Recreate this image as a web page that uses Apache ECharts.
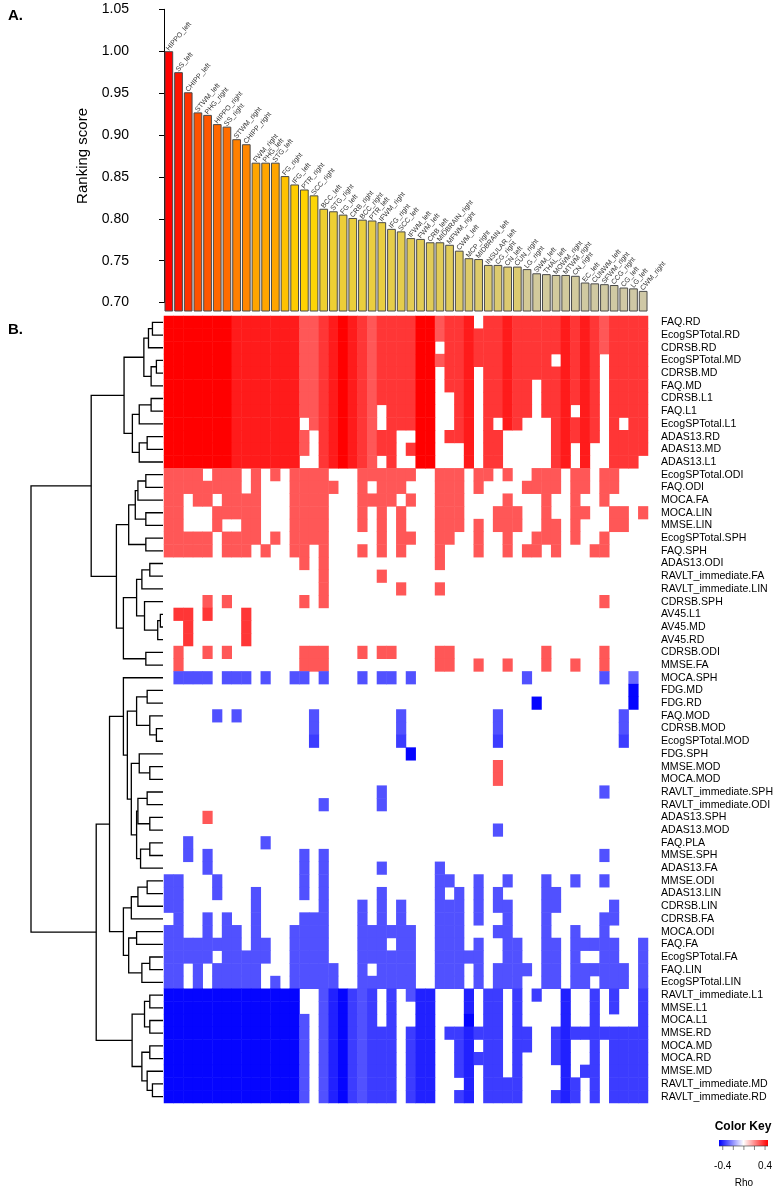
<!DOCTYPE html>
<html><head><meta charset="utf-8">
<script src="https://cdn.jsdelivr.net/npm/echarts@6/dist/echarts.min.js"></script>
<style>html,body{margin:0;padding:0;background:#fff}#c{width:784px;height:1190px}</style>
</head><body><div id="c"></div>
<script>
// ---------------- DATA ----------------
const regions = ["HIPPO_left","SS_left","CHIPP_left","STWM_left","PHG_right","HIPPO_right","SS_right","STWM_right","CHIPP_right","FWM_right",
"PHG_left","STG_left","FG_right","IFG_left","PTR_right","SCC_right","BCC_left","STG_right","FG_left","CRB_right",
"BCC_right","PTR_left","IFWM_right","IFG_right","SCC_left","IFWM_left","FWM_left","CRB_left","MIDBRAIN_right","MFWM_right",
"CWM_left","MCP_right","MIDBRAIN_left","INSULAR_left","CG_right","CN_left","CUN_right","LG_right","SWM_left","THAL_left",
"MOWM_right","MTWM_right","CN_right","EC_left","CUNWM_left","SFWM_right","CCG_right","CG_left","LG_left","CWM_right"];
const scores = [1.000,0.975,0.951,0.927,0.924,0.913,0.910,0.895,0.889,0.867,
0.867,0.867,0.851,0.841,0.835,0.828,0.812,0.809,0.805,0.801,
0.799,0.798,0.796,0.788,0.785,0.777,0.776,0.772,0.772,0.769,
0.762,0.753,0.752,0.745,0.745,0.743,0.743,0.740,0.735,0.734,
0.733,0.733,0.732,0.724,0.723,0.722,0.721,0.718,0.717,0.714];
const scoreTicks = {min:0.70, max:1.05, step:0.05};

const rowNames = ["FAQ.RD","EcogSPTotal.RD","CDRSB.RD","EcogSPTotal.MD","CDRSB.MD","FAQ.MD","CDRSB.L1","FAQ.L1","EcogSPTotal.L1","ADAS13.RD",
"ADAS13.MD","ADAS13.L1","EcogSPTotal.ODI","FAQ.ODI","MOCA.FA","MOCA.LIN","MMSE.LIN","EcogSPTotal.SPH","FAQ.SPH","ADAS13.ODI",
"RAVLT_immediate.FA","RAVLT_immediate.LIN","CDRSB.SPH","AV45.L1","AV45.MD","AV45.RD","CDRSB.ODI","MMSE.FA","MOCA.SPH","FDG.MD",
"FDG.RD","FAQ.MOD","CDRSB.MOD","EcogSPTotal.MOD","FDG.SPH","MMSE.MOD","MOCA.MOD","RAVLT_immediate.SPH","RAVLT_immediate.ODI","ADAS13.SPH",
"ADAS13.MOD","FAQ.PLA","MMSE.SPH","ADAS13.FA","MMSE.ODI","ADAS13.LIN","CDRSB.LIN","CDRSB.FA","MOCA.ODI","FAQ.FA",
"EcogSPTotal.FA","FAQ.LIN","EcogSPTotal.LIN","RAVLT_immediate.L1","MMSE.L1","MOCA.L1","MMSE.RD","MOCA.MD","MOCA.RD","MMSE.MD",
"RAVLT_immediate.MD","RAVLT_immediate.RD"];

// rho, one character per region column ('.' = blank / not significant)
const codeRho = {'1':0.28,'2':0.31,'3':0.37,'4':0.42,'5':0.47,'A':-0.28,'B':-0.32,'C':-0.36,'D':-0.41,'E':-0.46};
const Z = "..........";
const rhoCodes = [
"5555555444"+"4444223454"+"3233335523"+"34.3343333"+"3434323333",
"5555555444"+"4444223454"+"3233335523"+"3433343333"+"3434323333",
"5555555444"+"4444223454"+"32333355.3"+"3433343333"+"3434323333",
"5555555444"+"4444223454"+"3233335523"+"3433343333"+".4343.3333",
"5555555444"+"4444223454"+"32333355.3"+"34.3343333"+"34343.3333",
"5555555444"+"4444223454"+"32333355.3"+"34.33433.3"+"34343.3333",
"5555555444"+"4444223454"+"32333355.."+"34.33433.3"+"34343.3333",
"5555555444"+"4444223454"+"32.33355.."+"34.33433.3"+"34.43.3333",
"5555555444"+"4444.23454"+"32.33355.."+"34.3.43..."+"34343.3.33",
"5555555444"+"44442.3454"+"3233..55.3"+"34.33....."+"34343.3333",
"5555555444"+"44442.3454"+"3233.355.."+".4.33....."+"34.4..3333",
"5555555444"+"4444..3454"+"32.3..55.."+".4.33....."+"34.4..333.",
"2222.222.2"+".2.2222..."+"222222..22"+"2.22.2..22"+"2.22.22...",
"22222222.2"+"...22222.."+"2.222...22"+"2.2....222"+"2.22.22...",
"22.22.2222"+"...2222..."+"2222.2..22"+"2....2...2"+"..2..2....",
"22...22222"+"...2222..."+"2.2.2...22"+"2...222..2"+"..22..22.2",
"22...2..22"+"...2222..."+"2.2.2...22"+"2.2.222..2"+"2.2...22..",
"22222.2222"+".2.2222..."+"..2.22..22"+"..2..2..22"+"2.2..2....",
"22222.222."+"2..22.2..."+"2.2.2...2."+"..2..2.22."+"2...22....",
Z+"....2.2..."+"........2."+Z+Z,
Z+"......2..."+"..2......."+Z+Z,
Z+"......2..."+"....2...2."+Z+Z,
"....2.2..."+"....2.2..."+Z+Z+".....2....",
".33.3...3."+Z+Z+Z+Z,
"..3.....3."+Z+Z+Z+Z,
"..3.....3."+Z+Z+Z+Z,
".2..2.2..."+"....222..."+"2.22....22"+".........2"+".....2....",
".2........"+"....222..."+"........22"+"..2..2...2"+"..2..2....",
".BBBB.BBB."+"B..BB.B..."+"B.BB.B...."+".......B.."+".....B..A.",
Z+Z+Z+Z+"........E.",
Z+Z+Z+"........E."+"........E.",
".....B.B.."+".....B...."+"....B....."+"....B....."+".......B..",
Z+".....B...."+"....B....."+"....B....."+".......B..",
Z+".....C...."+"....C....."+"....C....."+".......C..",
Z+Z+".....E...."+Z+Z,
Z+Z+Z+"....2....."+Z,
Z+Z+Z+"....2....."+Z,
Z+Z+"..B......."+Z+".....B....",
Z+"......B..."+"..B......."+Z+Z,
"....2....."+Z+Z+Z+Z,
Z+Z+Z+"....B....."+Z,
"..B......."+"B........."+Z+Z+Z,
"..B.B....."+"....B.B..."+Z+Z+".....B....",
"....B....."+"....B.B..."+"..B.....B."+Z+Z,
"BB...B...."+"....B.B..."+"........BB"+"..B..B...B"+"..B..B....",
"BB...B...B"+"....B.B..."+"..B.....B."+"B.B.B....B"+"B.........",
"BB.......B"+"......B..."+"B.B.B...BB"+"B.B.BB...B"+"B.....B...",
".B..B.B..B"+"....BBB..."+"B.B.B...BB"+"B.B..B...B"+".....BB...",
"BB..B.BB.B"+"...BBBB..."+"BBBBBB..BB"+"B...BB...B"+"..B..B....",
"BBBBBBBB.B"+"B..BBBB..."+"BBB.BB..BB"+"B.B..BB..B"+"B.BBBBB..B",
"BBBBB.BBBB"+"B..BBBB..."+"BBBBBB..BB"+"BBB..BB..B"+"B.B..BB..B",
"BB.B.BBBBB"+"...BBBBB.."+"B.BBBB..BB"+"B.B.BBBB.B"+"B.BBBBBB.B",
"BB.B.BBBBB"+".B.BBBBB.."+"BBBBBB..BB"+"B.B.BBB..B"+"B.BB.BBB.B",
"EEEEEEEEEE"+"EEEE..BDEC"+"BC.C.BDD.."+".D.CC.C.C."+".D..C.C..C",
"EEEEEEEEEE"+"EEEE..BDEC"+"BC.C..DD.."+".D.CC.C..."+".D..C.C..C",
"EEEEEEEEEE"+"EEEEB.BDEC"+"BC.C..DD.."+".E.CC.C..."+".D..C....C",
"EEEEEEEEEE"+"EEEEB.BDEC"+"BCCC.CDD.C"+"CDCCC.CC.."+"CDCCCCCCCC",
"EEEEEEEEEE"+"EEEEB.BDEC"+"BCCC.CDD.."+"CD.CC.CC.."+"CD..C.CCCC",
"EEEEEEEEEE"+"EEEEB.BDEC"+"BCCC.CDD.."+"CDCCC.C..."+"CD..C.CCCC",
"EEEEEEEEEE"+"EEEEB.BDEC"+"BCCC.CDD.."+"CD.CC.C..."+".D.CC.CCCC",
"EEEEEEEEEE"+"EEEEB.BDEC"+"BCCC.CDD.."+".D.CCCC..."+".DC.C.CCCC",
"EEEEEEEEEE"+"EEEEB.BDEC"+"BCCC.CDD.."+"CD.CCCC..."+"CDC.C.CCCC"
];

// row dendrogram: [mergeHeight, left, right]; leaves are row indices
const G1 = [0.295,[0.145,[0.11,[0.08,0,1],2],[0.09,[0.05,3,4],5]],[0.232,[0.18,[0.09,6,7],8],[0.18,[0.12,9,10],11]]];
const G2 = [0.26,[0.21,[0.19,[0.13,12,13],14],[0.13,15,16]],[0.13,17,18]];
const G3 = [0.3,[0.2,[0.16,[0.1,19,20],21],[0.14,22,[0.04,[0.02,23,24],25]]],[0.13,26,27]];
const B1a = [0.3,28,[0.27,[0.2,[0.12,29,30],[0.1,31,[0.05,32,33]]],[0.24,[0.18,34,[0.1,35,36]],[0.2,[0.19,[0.12,37,38],[0.1,39,40]],[0.17,[0.1,41,42],43]]]]];
const B1b = [0.3,[0.24,[0.19,[0.12,44,45],46],47],[0.26,[0.2,48,49],[0.16,[0.1,50,51],52]]];
const B2 = [0.234,[0.14,[0.1,53,54],[0.1,55,56]],[0.16,[0.1,57,58],[0.12,59,[0.08,60,61]]]];
const rowTree = [1.0,[0.544,G1,[0.353,G2,G3]],[0.506,[0.405,B1a,B1b],B2]];

const keyTicks = [-0.4,-0.2,0,0.2,0.4];
const keyLabels = [-0.4,0.4];
const rhoRange = [-0.47,0.47];

// bar colour ramp (score -> colour)
const barStops = [[0.714,'#CFC8A6'],[0.735,'#D2CA9C'],[0.741,'#D4CA94'],[0.743,'#DCCA70'],[0.76,'#DFCB62'],[0.79,'#E7CD48'],[0.812,'#EECF30'],[0.83,'#FFD600'],[0.85,'#FFC400'],[0.867,'#FFA500'],[0.89,'#FF8600'],[0.91,'#FF6C00'],[0.925,'#FF5500'],[0.95,'#FF3300'],[0.975,'#FF1400'],[1.0,'#FF0000']];

// ---------------- BUILD ----------------
function hex(c){return [parseInt(c.substr(1,2),16),parseInt(c.substr(3,2),16),parseInt(c.substr(5,2),16)];}
function barColor(v){
  if(v<=barStops[0][0]) return barStops[0][1];
  for(let i=1;i<barStops.length;i++){
    if(v<=barStops[i][0]){
      const [v0,c0]=barStops[i-1],[v1,c1]=barStops[i];
      const t=(v-v0)/(v1-v0), a=hex(c0), b=hex(c1);
      return 'rgb('+a.map((x,k)=>Math.round(x+(b[k]-x)*t)).join(',')+')';
    }
  }
  return barStops[barStops.length-1][1];
}
const heatData=[];
rhoCodes.forEach((s,r)=>{for(let c=0;c<s.length;c++){const ch=s[c]; if(ch!=='.') heatData.push([c,r,codeRho[ch]]);}});
const segs=[];
function lay(n){
  if(typeof n==='number') return {h:0,y:n+0.5};
  const a=lay(n[1]), b=lay(n[2]);
  segs.push([a.h,a.y,b.h,b.y,n[0]]);
  return {h:n[0],y:(a.y+b.y)/2};
}
lay(rowTree);

const FONT='"Liberation Sans", Arial, sans-serif';
const chart = echarts.init(document.getElementById('c'));
// colour key geometry
const kx0=719, kx1=768, kVal=v=>743.9+v*52.9;
const graphics=[
  {type:'text',style:{text:'A.',x:8,y:16,textVerticalAlign:'middle',font:'bold 15px '+FONT,fill:'#000'}},
  {type:'text',style:{text:'B.',x:8,y:330,textVerticalAlign:'middle',font:'bold 15px '+FONT,fill:'#000'}},
  {type:'text',style:{text:'Color Key',x:743,y:1127,textAlign:'center',textVerticalAlign:'middle',font:'bold 12px '+FONT,fill:'#000'}},
  {type:'rect',shape:{x:kx0,y:1140,width:kx1-kx0,height:6},style:{fill:new echarts.graphic.LinearGradient(0,0,1,0,[{offset:0,color:'#0000FF'},{offset:0.5,color:'#FFFFFF'},{offset:1,color:'#FF0000'}])}},
  {type:'line',shape:{x1:kx0,y1:1146,x2:kx1,y2:1146},style:{stroke:'#333',lineWidth:0.6}},
  {type:'text',style:{text:'Rho',x:744,y:1183,textAlign:'center',textVerticalAlign:'middle',font:'10px '+FONT,fill:'#000'}}
];
keyTicks.forEach(v=>graphics.push({type:'line',shape:{x1:kVal(v),y1:1146,x2:kVal(v),y2:1150},style:{stroke:'#333',lineWidth:0.6}}));
keyLabels.forEach(v=>graphics.push({type:'text',style:{text:v.toFixed(1),x:kVal(v),y:1166,textAlign:'center',textVerticalAlign:'middle',font:'10px '+FONT,fill:'#000'}}));

chart.setOption({
  animation:false,
  textStyle:{fontFamily:FONT},
  grid:[
    {left:164,top:9.3,width:484,height:301.7},
    {left:164,top:9.3,width:484,height:293.3},
    {left:164,top:316,width:484,height:787},
    {left:31,top:316,width:132,height:787}
  ],
  xAxis:[
    {gridIndex:0,type:'category',data:regions,show:false},
    {gridIndex:1,type:'value',min:0,max:1,show:false},
    {gridIndex:2,type:'category',data:regions,show:false},
    {gridIndex:3,type:'value',min:0,max:1,inverse:true,show:false}
  ],
  yAxis:[
    {gridIndex:0,type:'value',min:0.69,max:scoreTicks.max,show:false},
    {gridIndex:1,type:'value',min:scoreTicks.min,max:scoreTicks.max,interval:scoreTicks.step,offset:23,
     axisLine:{show:true,lineStyle:{color:'#000',width:1}},axisTick:{show:true,length:5,lineStyle:{color:'#000'}},
     splitLine:{show:false},axisLabel:{formatter:v=>v.toFixed(2),fontSize:14,color:'#000',margin:12},
     name:'Ranking score',nameLocation:'middle',nameGap:48,nameTextStyle:{fontSize:15,color:'#000'}},
    {gridIndex:2,type:'category',data:rowNames,inverse:true,position:'right',axisLine:{show:false},axisTick:{show:false},
     axisLabel:{fontSize:10.6,color:'#000',margin:13,interval:0}},
    {gridIndex:3,type:'value',min:0,max:rowNames.length,inverse:true,show:false}
  ],
  visualMap:[{type:'continuous',min:rhoRange[0],max:rhoRange[1],seriesIndex:1,dimension:2,show:false,
    inRange:{color:['#0000FF','#FFFFFF','#FF0000']}}],
  series:[
    {type:'bar',xAxisIndex:0,yAxisIndex:0,data:scores,barCategoryGap:'10%',
     itemStyle:{color:p=>barColor(p.value),borderColor:'#4a4a4a',borderWidth:1},
     label:{show:true,formatter:'{b}',position:'top',rotate:50,align:'left',verticalAlign:'middle',distance:3,offset:[-2,0],fontSize:7,color:'#333'}},
    {type:'heatmap',xAxisIndex:2,yAxisIndex:2,data:heatData,itemStyle:{borderWidth:0},emphasis:{disabled:true}},
    {type:'custom',xAxisIndex:3,yAxisIndex:3,data:segs,encode:{x:[0,2,4],y:[1,3]},
     renderItem:(params,api)=>{
       const p1=api.coord([api.value(0),api.value(1)]), a=api.coord([api.value(4),api.value(1)]);
       const b=api.coord([api.value(4),api.value(3)]), p2=api.coord([api.value(2),api.value(3)]);
       return {type:'polyline',shape:{points:[p1,a,b,p2]},style:{stroke:'#000',lineWidth:1.3,fill:null}};
     }}
  ],
  graphic:graphics
});
</script>
</body></html>
